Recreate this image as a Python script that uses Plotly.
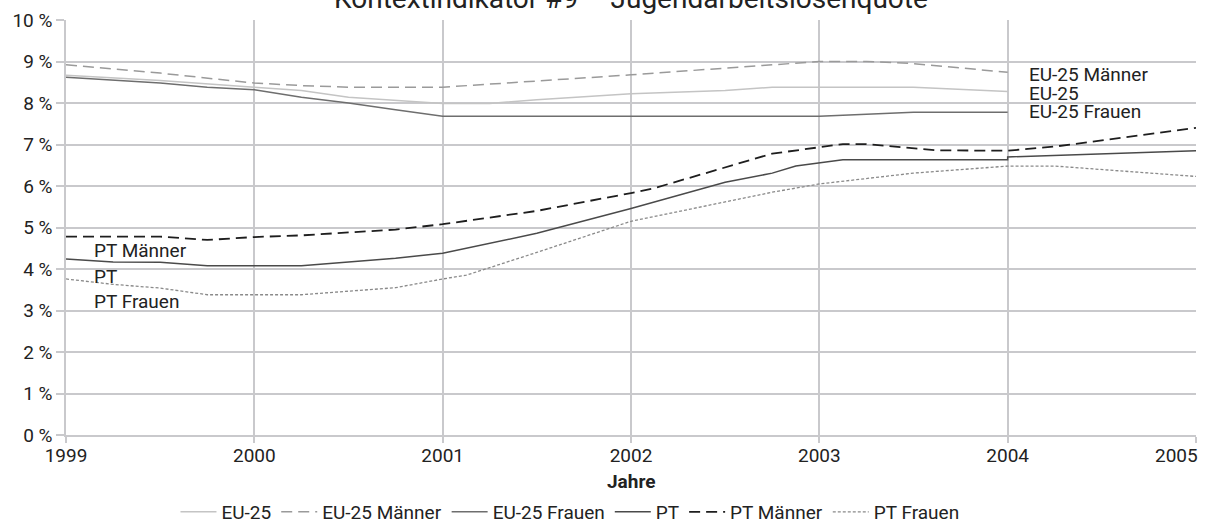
import plotly.graph_objects as go

# Youth unemployment rate (%), EU-25 vs. Portugal, by sex
eu_x = [1999.0, 1999.5, 2000.0, 2000.25, 2000.5, 2000.75, 2001.0, 2001.25, 2001.5,
        2002.0, 2002.5, 2002.75, 2003.5, 2004.0]
eu_y = [8.67, 8.54, 8.38, 8.30, 8.14, 8.06, 7.99, 7.99, 8.08,
        8.22, 8.30, 8.38, 8.38, 8.28]

eu_m_x = [1999.0, 1999.5, 2000.0, 2000.25, 2000.5, 2001.0, 2002.0, 2003.0, 2003.25,
          2003.5, 2004.0]
eu_m_y = [8.92, 8.72, 8.48, 8.42, 8.38, 8.38, 8.68, 9.00, 9.00,
          8.95, 8.74]

eu_f_x = [1999.0, 1999.5, 1999.75, 2000.0, 2000.25, 2000.5, 2000.75, 2001.0, 2003.0,
          2003.5, 2004.0]
eu_f_y = [8.62, 8.48, 8.38, 8.32, 8.14, 8.00, 7.84, 7.68, 7.68,
          7.78, 7.78]

pt_x = [1999.0, 1999.25, 1999.5, 1999.75, 2000.25, 2000.5, 2000.75, 2001.0, 2001.5,
        2002.0, 2002.25, 2002.5, 2002.75, 2002.875, 2003.125, 2004.0, 2004.0, 2005.0]
pt_y = [4.24, 4.17, 4.16, 4.08, 4.08, 4.17, 4.26, 4.38, 4.86,
        5.46, 5.77, 6.09, 6.31, 6.48, 6.63, 6.63, 6.70, 6.85]

pt_m_x = [1999.0, 1999.5, 1999.75, 2000.0, 2000.25, 2000.75, 2001.0, 2001.5, 2002.0,
          2002.125, 2002.75, 2002.875, 2003.125, 2003.25, 2003.625, 2004.0, 2004.25, 2005.0]
pt_m_y = [4.78, 4.78, 4.70, 4.77, 4.81, 4.95, 5.08, 5.40, 5.83,
          5.95, 6.78, 6.86, 7.01, 7.01, 6.86, 6.85, 6.95, 7.40]

pt_f_x = [1999.0, 1999.25, 1999.5, 1999.75, 2000.25, 2000.5, 2000.75, 2001.0, 2001.125,
          2001.5, 2002.0, 2002.75, 2003.0, 2003.5, 2004.0, 2004.25, 2005.0]
pt_f_y = [3.76, 3.63, 3.54, 3.38, 3.38, 3.47, 3.55, 3.76, 3.85,
          4.40, 5.15, 5.85, 6.05, 6.31, 6.48, 6.48, 6.23]

years = [1999, 2000, 2001, 2002, 2003, 2004, 2005]
year_text = [str(y) for y in years]
pct_vals = list(range(0, 11))
pct_text = [f"{v} %" for v in pct_vals]

FONT = "Roboto, Liberation Sans, sans-serif"
FS = 19
GRID = "#c9c9cc"
INK = "#222222"

series = [
    ("EU-25", eu_x, eu_y, dict(color="#c4c4c4", width=1.5, dash="solid")),
    ("EU-25 Männer", eu_m_x, eu_m_y, dict(color="#9a9a9a", width=1.5, dash="11px,6px")),
    ("EU-25 Frauen", eu_f_x, eu_f_y, dict(color="#6e6e6e", width=1.5, dash="solid")),
    ("PT", pt_x, pt_y, dict(color="#4a4a4a", width=1.5, dash="solid")),
    ("PT Männer", pt_m_x, pt_m_y, dict(color="#1e1e1e", width=1.8, dash="11px,6px")),
    ("PT Frauen", pt_f_x, pt_f_y, dict(color="#8a8a8a", width=1.3, dash="3px,2px")),
]

fig = go.Figure()
for name, xs, ys, line in series:
    fig.add_trace(go.Scatter(x=xs, y=ys, name=name, mode="lines", line=line,
                             hoverinfo="x+y+name"))

# series labels inside the plot
labels = [
    ("EU-25 Männer", 2004.10, 8.68),
    ("EU-25", 2004.10, 8.24),
    ("EU-25 Frauen", 2004.10, 7.80),
    ("PT Männer", 1999.14, 4.44),
    ("PT", 1999.14, 3.82),
    ("PT Frauen", 1999.14, 3.22),
]
annotations = [
    dict(x=x, y=y, xref="x", yref="y", text=t, showarrow=False,
         xanchor="left", yanchor="middle", font=dict(size=FS, color=INK))
    for t, x, y in labels
]
annotations.append(dict(
    text="Kontextindikator #9 – Jugendarbeitslosenquote",
    x=0.5, xref="paper", y=1.0, yref="paper", yshift=3,
    xanchor="center", yanchor="bottom", showarrow=False,
    font=dict(size=28, color=INK)))
# x-axis title
annotations.append(dict(
    text="<b>Jahre</b>", x=0.5, xref="paper", y=-0.113, yref="paper",
    xanchor="center", yanchor="middle", showarrow=False,
    font=dict(size=FS, color=INK)))
# last year label, kept right-aligned at the plot edge so it stays on the page
annotations.append(dict(
    text=year_text[-1], x=years[-1], xref="x", y=0, yref="paper",
    xanchor="right", yanchor="middle", xshift=4, yshift=-20, showarrow=False,
    font=dict(size=FS, color=INK)))
tick_text = year_text[:-1] + [""]

fig.update_layout(
    width=1214, height=524,
    margin=dict(l=66, r=18, t=20, b=89),
    paper_bgcolor="white", plot_bgcolor="white",
    font=dict(family=FONT, size=FS, color=INK),
    showlegend=True,
    legend=dict(orientation="h", x=0.446, xanchor="center",
                yref="container", y=0.023, yanchor="middle",
                font=dict(size=FS), itemwidth=36, tracegroupgap=0,
                bgcolor="rgba(0,0,0,0)"),
    annotations=annotations,
    xaxis=dict(range=[1999, 2005], tickvals=years, ticktext=tick_text,
               showgrid=True, gridcolor=GRID, gridwidth=1.5,
               showline=True, linecolor=GRID, linewidth=1.5,
               ticks="outside", ticklen=6, tickcolor=GRID, tickwidth=1.5,
               ticklabelstandoff=-4, ticklabeloverflow="allow", automargin=False,
               zeroline=False, tickfont=dict(size=FS)),
    yaxis=dict(range=[0, 10], tickvals=pct_vals, ticktext=pct_text,
               showgrid=True, gridcolor=GRID, gridwidth=1.5,
               showline=True, linecolor=GRID, linewidth=1.5,
               ticks="outside", ticklen=8, tickcolor=GRID, tickwidth=1.5,
               automargin=False, zeroline=False, tickfont=dict(size=FS)),
)

fig.write_html("out.html")
